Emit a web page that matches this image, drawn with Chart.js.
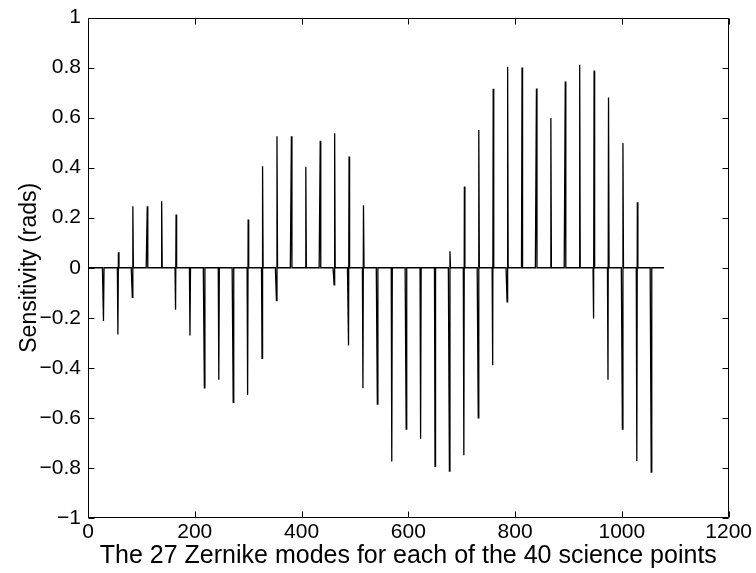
<!DOCTYPE html>
<html lang="en">
<head>
  <meta charset="UTF-8">
  <title>Zernike sensitivity</title>
  <script src="https://cdn.jsdelivr.net/npm/chart.js"></script>
  <style>
    body { margin: 0; background: #FFFFFF; }
    canvas { display: block; }
  </style>
</head>
<body>
  <canvas id="grafico" width="756" height="573"></canvas>

  <script>
    const modesPerPoint = 27;
    const sciencePoints = 40;

    // sensitivity of the two tilt modes (2 and 3) of each science point
    const mode2 = [0, -0.213, -0.267, -0.118, 0, 0, -0.168, -0.271, -0.48, -0.448,
      -0.538, -0.508, -0.362, -0.131, 0, 0, 0, -0.068, -0.311, -0.482,
      -0.545, -0.774, -0.645, -0.683, -0.794, -0.813, -0.749, -0.6, -0.39, -0.136,
      0, 0, 0, 0, 0, -0.203, -0.448, -0.645, -0.772, -0.817];
    const mode3 = [0, 0, 0.062, 0.246, 0.246, 0.266, 0.213, 0, 0, 0,
      0, 0.193, 0.406, 0.525, 0.525, 0.404, 0.507, 0.537, 0.445, 0.25,
      0, 0, 0, 0, 0, 0.066, 0.325, 0.55, 0.715, 0.803,
      0.8, 0.716, 0.598, 0.744, 0.811, 0.788, 0.68, 0.498, 0.262, 0];

    const xTicks = [0, 200, 400, 600, 800, 1000, 1200];
    const yTicks = [-1, -0.8, -0.6, -0.4, -0.2, 0, 0.2, 0.4, 0.6, 0.8, 1];

    // every other mode is zero
    const pontos = [];
    for (let i = 1; i <= modesPerPoint * sciencePoints; i++) {
      pontos.push({ x: i, y: 0 });
    }
    for (let k = 0; k < sciencePoints; k++) {
      pontos[k * modesPerPoint + 1].y = mode2[k];
      pontos[k * modesPerPoint + 2].y = mode3[k];
    }

    function rotulo(v) {
      const s = String(Math.round(v * 10) / 10);
      return s.replace('-', '\u2212');
    }

    // box round the plot with inward ticks, like MATLAB
    const moldura = {
      id: 'moldura',
      afterDatasetsDraw(chart) {
        const { ctx, chartArea: a, scales: { x, y } } = chart;
        const L = Math.round(a.left) + 0.5, R = Math.round(a.right) - 0.5;
        const T = Math.round(a.top) + 0.5, B = Math.round(a.bottom) - 0.5;
        ctx.save();
        ctx.strokeStyle = '#000000';
        ctx.lineWidth = 1;
        ctx.beginPath();
        ctx.rect(L, T, R - L, B - T);
        xTicks.forEach(v => {
          const px = Math.round(x.getPixelForValue(v)) + 0.5;
          ctx.moveTo(px, B); ctx.lineTo(px, B - 6);
          ctx.moveTo(px, T); ctx.lineTo(px, T + 6);
        });
        yTicks.forEach(v => {
          const py = Math.round(y.getPixelForValue(v)) + 0.5;
          ctx.moveTo(L, py); ctx.lineTo(L + 6, py);
          ctx.moveTo(R, py); ctx.lineTo(R - 6, py);
        });
        ctx.stroke();
        ctx.restore();
      }
    };

    const fonte = '"Liberation Sans", Arial, Helvetica, sans-serif';

    new Chart(document.getElementById('grafico').getContext('2d'), {
      type: 'line',
      data: {
        datasets: [{
          data: pontos,
          borderColor: '#000000',
          borderWidth: 1.3,
          pointRadius: 0,
          tension: 0,
          fill: false
        }]
      },
      options: {
        responsive: false,
        animation: false,
        devicePixelRatio: 1,
        layout: { padding: { top: 11, right: 24, left: 0, bottom: 0 } },
        plugins: { legend: { display: false }, tooltip: { enabled: false } },
        scales: {
          x: {
            type: 'linear',
            min: 0,
            max: 1200,
            afterBuildTicks: s => { s.ticks = xTicks.map(v => ({ value: v })); },
            afterFit: s => { s.height = 55; },
            grid: { display: false, drawTicks: false },
            border: { display: false },
            ticks: {
              color: '#000000',
              padding: 4,
              maxRotation: 0,
              autoSkip: false,
              font: { family: fonte, size: 21, lineHeight: 1 },
              callback: v => rotulo(v)
            },
            title: {
              display: true,
              text: 'The 27 Zernike modes for each of the 40 science points',
              color: '#000000',
              font: { family: fonte, size: 25 },
              padding: { top: 0, bottom: 2 }
            }
          },
          y: {
            min: -1,
            max: 1,
            afterBuildTicks: s => { s.ticks = yTicks.map(v => ({ value: v })); },
            afterFit: s => { s.width = 88; },
            grid: { display: false, drawTicks: false },
            border: { display: false },
            ticks: {
              color: '#000000',
              padding: 7,
              autoSkip: false,
              font: { family: fonte, size: 21, lineHeight: 1 },
              callback: v => rotulo(v)
            },
            title: {
              display: true,
              text: 'Sensitivity (rads)',
              color: '#000000',
              font: { family: fonte, size: 23 },
              padding: { top: 16, bottom: 0 }
            }
          }
        }
      },
      plugins: [moldura]
    });
  </script>
</body>
</html>
